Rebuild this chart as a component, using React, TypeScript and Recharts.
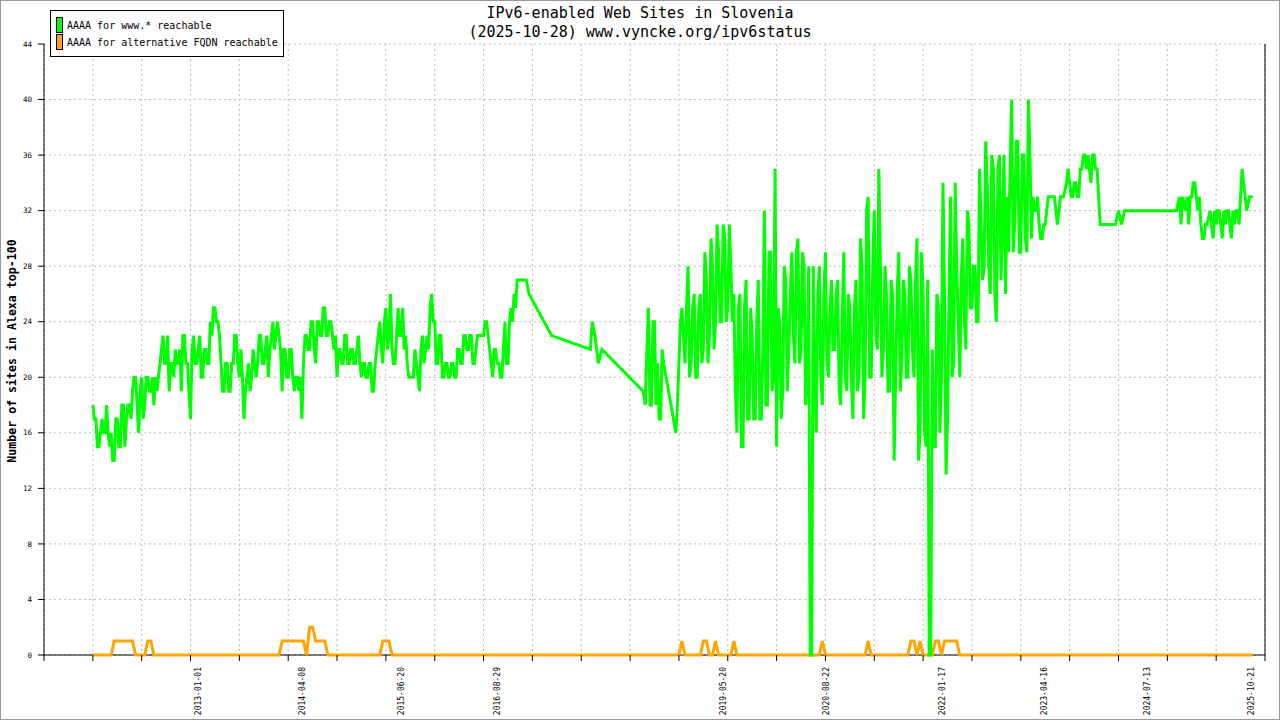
import React from 'react';
import { LineChart, Line, XAxis, YAxis, CartesianGrid, ReferenceLine } from 'recharts';

const FONT = '"DejaVu Sans Mono", "Liberation Mono", monospace';

const TITLE = 'IPv6-enabled Web Sites in Slovenia';
const SUBTITLE = '(2025-10-28) www.vyncke.org/ipv6status';
const Y_LABEL = 'Number of sites in Alexa top-100';
const SERIES_NAMES = ['AAAA for www.* reachable', 'AAAA for alternative FQDN reachable'];
const SERIES_COLORS = ['#00ff00', '#ffa500'];

const yTicks = [0, 4, 8, 12, 16, 20, 24, 28, 32, 36, 40, 44];
const gridTicks = [-16, 0, 16, 32, 48, 64, 80, 96, 112, 128, 144, 160, 176, 192, 208, 224, 240, 256, 272, 288, 304, 320, 336, 352, 368, 384];
const dateLabels = ['2013-01-01', '2014-04-08', '2015-06-20', '2016-08-29', '2019-05-20', '2020-08-22', '2022-01-17', '2023-04-16', '2024-07-13', '2025-10-21'];
const dateTickPos = [34.7, 68.7, 101.2, 132.7, 206.6, 240.5, 278.4, 311.9, 345.5, 379.6];

// Sites with AAAA for www.*: [sample position, first reading, second reading (half a step later)]
const wwwSamples: number[][] = [
  [0, 18, 17], [1, 17, 15], [2, 15, 16], [3, 17, 16], [4, 16, 18], [5, 16, 15], [6, 16, 14], [7, 14, 17], [8, 17, 15], [9, 15, 18],
  [10, 18, 15], [11, 17, 18], [12, 18, 17], [13, 19, 20], [14, 20, 18], [15, 16, 19], [16, 20, 17], [17, 18, 20], [18, 20, 19], [19, 19, 20],
  [20, 18, 20], [21, 19, 20], [22, 21, 22], [23, 23, 21], [24, 21, 23], [25, 19, 21], [26, 21, 20], [27, 22, 21], [28, 21, 22], [29, 19, 23],
  [30, 23, 21], [31, 21, 19], [32, 17, 22], [33, 23, 21], [34, 21, 22], [35, 23, 20], [36, 20, 22], [37, 22, 21], [38, 21, 24], [39, 23, 25],
  [40, 25, 24], [41, 24, 23], [42, 21, 19], [43, 19, 21], [44, 21, 19], [45, 19, 21], [46, 21, 23], [47, 23, 21], [48, 20, 22], [49, 20, 17],
  [50, 19, 20], [51, 21, 19], [52, 20, 22], [53, 21, 20], [54, 21, 23], [55, 23, 21], [56, 21, 22], [57, 23, 20], [58, 22, 23], [59, 24, 22],
  [60, 23, 24], [61, 23, 22], [62, 19, 22], [63, 22, 20], [64, 20, 22], [65, 22, 20], [66, 19, 20], [67, 20, 19], [68, 20, 17], [69, 21, 23],
  [70, 23, 22], [71, 22, 24], [72, 24, 22], [73, 21, 24], [74, 24, 23], [75, 23, 25], [76, 25, 23], [77, 23, 24], [78, 24, 23], [79, 22, 23],
  [80, 20, 22], [81, 22, 21], [82, 21, 23], [83, 23, 21], [84, 21, 22], [85, 22, 21], [86, 21, 22], [87, 23, 21], [88, 20, 21], [89, 21, 20],
  [90, 20, 21], [91, 21, 19], [92, 19, 21], [93, 22, 23], [94, 24, 22],
  [95, 21, 24], [96, 25, 22], [97, 23, 26], [98, 22, 21], [99, 21, 23], [100, 25, 23], [101, 23, 25], [102, 22, 23], [103, 21, 20], [104, 20, 20],
  [105, 20, 22], [106, 21, 20], [107, 19, 22], [108, 23, 21], [109, 22, 23], [110, 22, 25], [111, 26, 24], [112, 24, 21], [113, 21, 23], [114, 23, 20],
  [115, 20, 21], [116, 21, 20], [117, 20, 21], [118, 21, 20], [119, 20, 22], [120, 22, 21], [121, 21, 23], [122, 23, 22], [123, 22, 23], [124, 23, 21],
  [125, 21, 22], [126, 23, 23], [127, 23, 23], [128, 23, 24], [129, 24, 23], [130, 22, 21], [131, 20, 22], [132, 22, 21], [133, 21, 20], [134, 20, 22],
  [135, 24, 21], [136, 21, 24], [137, 25, 24], [138, 26, 25], [139, 27], [140, 27], [141, 27], [142, 27],
  [142.9, 26], [150.3, 23], [163, 22], [163.6, 24], [164.5, 23], [165.6, 21], [166.8, 22], [180.3, 19],
  [181, 18, 22], [182, 25, 18], [183, 18, 24], [184, 24, 18], [185, 21, 17], [186, 17, 22], [187, 21], [191, 16, 18],
  [192, 21, 24], [193, 25, 23], [194, 21, 25], [195, 28, 20], [196, 21, 25], [197, 26, 20], [198, 20, 25], [199, 26, 21],
  [200, 22, 29], [201, 27, 21], [202, 23, 30], [203, 28, 22], [204, 24, 31], [205, 29, 24], [206, 24, 31], [207, 30, 24], [208, 25, 31], [209, 28, 24],
  [210, 26, 19], [211, 16, 25], [212, 26, 15], [213, 15, 25], [214, 27, 17], [215, 17, 25], [216, 23, 17], [217, 17, 24], [218, 27, 17], [219, 17, 22],
  [220, 32, 18], [221, 18, 29], [222, 29, 19], [223, 20, 35], [224, 15, 25], [225, 24, 17], [226, 19, 28], [227, 27, 19], [228, 22, 26], [229, 29, 23],
  [230, 21, 29], [231, 30, 21], [232, 22, 29], [233, 28, 18], [234, 20, 28], [235, 0, 0], [236, 28, 20], [237, 16, 26], [238, 28, 20], [239, 18, 26],
  [240, 29, 21], [241, 20, 25], [242, 27, 22], [243, 22, 26], [244, 27, 19], [245, 18, 24], [246, 29, 20], [247, 19, 26], [248, 25, 20], [249, 17, 25],
  [250, 27, 19], [251, 20, 30], [252, 28, 17], [253, 20, 32], [254, 33, 20], [255, 20, 28], [256, 32, 23], [257, 22, 35], [258, 28, 20], [259, 22, 28],
  [260, 26, 19], [261, 19, 27], [262, 26, 14], [263, 20, 26], [264, 29, 19], [265, 21, 27], [266, 26, 20], [267, 20, 28], [268, 27, 22], [269, 20, 27],
  [270, 30, 14], [271, 16, 29], [272, 26, 16], [273, 15, 27], [274, 0, 0], [275, 22, 15], [276, 15, 26], [277, 25, 16], [278, 20, 34], [279, 26, 13],
  [280, 17, 26], [281, 33, 20], [282, 21, 34], [283, 28, 24], [284, 20, 27], [285, 30, 24], [286, 22, 32], [287, 31, 25], [288, 25, 28], [289, 28, 24],
  [290, 24, 35], [291, 31, 27], [292, 28, 37], [293, 34, 28], [294, 26, 36], [295, 35, 26], [296, 24, 35], [297, 36, 27], [298, 31, 36], [299, 26, 33],
  [300, 29, 35], [301, 40, 29], [302, 31, 37], [303, 37, 29], [304, 29, 36], [305, 36, 30], [306, 29, 40], [307, 36, 30], [308, 33, 32], [309, 32, 33],
  [310, 31, 30], [311, 30, 31], [312, 31], [313, 33], [314, 33], [315, 33], [316, 31], [317, 33], [318, 33], [319, 34, 35],
  [320, 34, 33], [321, 33, 34], [322, 34, 33], [323, 33, 35], [324, 35, 36], [325, 36, 35], [326, 36, 35], [327, 34, 36], [328, 36, 35], [329, 35],
  [330, 31], [335, 31], [336, 32], [337, 31], [338, 32], [355, 32],
  [356, 33, 31], [357, 33], [358, 32, 33], [359, 31, 33], [360, 33, 34], [361, 34, 33], [362, 32, 33], [363, 31, 30], [364, 30, 31], [365, 31],
  [366, 32, 31], [367, 30, 32], [368, 31, 32], [369, 32, 31], [370, 30, 32], [371, 31, 32], [372, 32, 31], [373, 30, 32], [374, 31, 32], [375, 32, 31],
  [376, 33, 35], [377, 34, 33], [378, 32], [379, 33], [380, 33],
];

// Sites with AAAA for an alternative FQDN: [sample position, value]
const altSeries: [number, number][] = [
  [0, 0], [6, 0], [7, 1], [13, 1], [14, 0], [17, 0], [18, 1], [19, 1], [20, 0],
  [61, 0], [62, 1], [69, 1], [70, 0], [71, 2], [72, 2], [73, 1], [76, 1], [77, 0],
  [94, 0], [95, 1], [97, 1], [98, 0],
  [192, 0], [193, 1], [194, 0], [199, 0], [200, 1], [201, 1], [202, 0], [203, 0], [204, 1], [205, 0],
  [209, 0], [210, 1], [211, 0], [238, 0], [239, 1], [240, 0], [253, 0], [254, 1], [255, 0],
  [267, 0], [268, 1], [269, 1], [270, 0], [271, 1], [272, 0], [275, 0], [276, 1], [277, 1], [278, 0],
  [279, 1], [280, 1], [281, 1], [282, 1], [283, 1], [284, 0], [380, 0],
];

const wwwData = wwwSamples.flatMap((s) =>
  s.length > 2 ? [{ pos: s[0], www: s[1] }, { pos: s[0] + 0.5, www: s[2] }] : [{ pos: s[0], www: s[1] }]
);
const altData = altSeries.map(([pos, v]) => ({ pos, alt: v }));

const gridSet = new Set(gridTicks);

const XTick = (props: any) => {
  const { x, y, payload } = props;
  const v = payload?.value;
  if (gridSet.has(v)) {
    return <line x1={x} y1={y} x2={x} y2={y + 6} stroke="#000" strokeWidth={1} />;
  }
  const idx = dateTickPos.indexOf(v);
  if (idx < 0) return null;
  const ty = y + 12;
  return (
    <text
      x={x}
      y={ty}
      transform={`rotate(-90 ${x} ${ty})`}
      textAnchor="end"
      dominantBaseline="central"
      fontFamily={FONT}
      fontSize={8}
      fill="#000"
    >
      {dateLabels[idx]}
    </text>
  );
};

// bottom edge of the plotting area, where the x-axis baseline sits (drawn beneath the series)
const baselineGenerator = (p: any) => [p.offset.top + p.offset.height];

export default function App() {
  return (
    <div style={{ position: 'fixed', left: 0, top: 0, width: 1280, height: 720, background: '#fff', fontFamily: FONT, overflow: 'hidden' }}>
      <LineChart width={1280} height={720} margin={{ top: 44, right: 15, bottom: 0, left: 0 }}>
        <CartesianGrid xAxisId="grid" stroke="#bbbbbb" strokeDasharray="2 3" />
        <CartesianGrid vertical={false} stroke="#000" horizontalCoordinatesGenerator={baselineGenerator} />
        <XAxis xAxisId="grid" type="number" dataKey="pos" domain={[-16, 384]} ticks={gridTicks} allowDataOverflow hide />
        <XAxis
          type="number"
          dataKey="pos"
          domain={[-16, 384]}
          allowDataOverflow
          ticks={[...gridTicks, ...dateTickPos]}
          interval={0}
          tick={<XTick />}
          tickLine={false}
          tickSize={0}
          tickMargin={0}
          height={65}
          axisLine={false}
        />
        <YAxis
          type="number"
          domain={[0, 44]}
          ticks={yTicks}
          interval={0}
          width={44}
          tickSize={6}
          tickMargin={6}
          tick={{ fontSize: 7.5, fill: '#000', fontFamily: FONT }}
          axisLine={{ stroke: '#000' }}
          tickLine={{ stroke: '#000' }}
        />
        <ReferenceLine x={384} stroke="#000" />
        <Line data={altData} dataKey="alt" name={SERIES_NAMES[1]} stroke={SERIES_COLORS[1]} strokeWidth={3} dot={false} type="linear" isAnimationActive={false} />
        <Line data={wwwData} dataKey="www" name={SERIES_NAMES[0]} stroke={SERIES_COLORS[0]} strokeWidth={3} dot={false} type="linear" isAnimationActive={false} />
      </LineChart>

      <div style={{ position: 'absolute', left: 0, width: 1280, top: 5.5, textAlign: 'center', fontSize: 15, lineHeight: '15px', color: '#000', whiteSpace: 'pre' }}>{TITLE}</div>
      <div style={{ position: 'absolute', left: 0, width: 1280, top: 24.8, textAlign: 'center', fontSize: 15, lineHeight: '15px', color: '#000', whiteSpace: 'pre' }}>{SUBTITLE}</div>

      <div style={{ position: 'absolute', left: 12 - 160, top: 351 - 7, width: 320, height: 14, lineHeight: '14px', textAlign: 'center', fontSize: 11.6, fontWeight: 'bold', transform: 'rotate(-90deg)', transformOrigin: '50% 50%', whiteSpace: 'pre', color: '#000' }}>{Y_LABEL}</div>

      <div style={{ position: 'absolute', left: 50, top: 10, width: 234, height: 47, boxSizing: 'border-box', border: '1px solid #000', background: '#fff' }}>
        {SERIES_NAMES.map((name, k) => (
          <React.Fragment key={name}>
            <div style={{ position: 'absolute', left: 5, top: 6 + k * 17.3, width: 7, height: 15.5, boxSizing: 'border-box', border: '1px solid #000', background: SERIES_COLORS[k] }} />
            <div style={{ position: 'absolute', left: 16, top: 9.8 + k * 17.4, fontSize: 10, lineHeight: '10px', whiteSpace: 'pre', color: '#000' }}>{name}</div>
          </React.Fragment>
        ))}
      </div>

      <div style={{ position: 'absolute', left: 0, top: 0, width: 1280, height: 720, boxSizing: 'border-box', border: '1px solid #999', pointerEvents: 'none' }} />
    </div>
  );
}
